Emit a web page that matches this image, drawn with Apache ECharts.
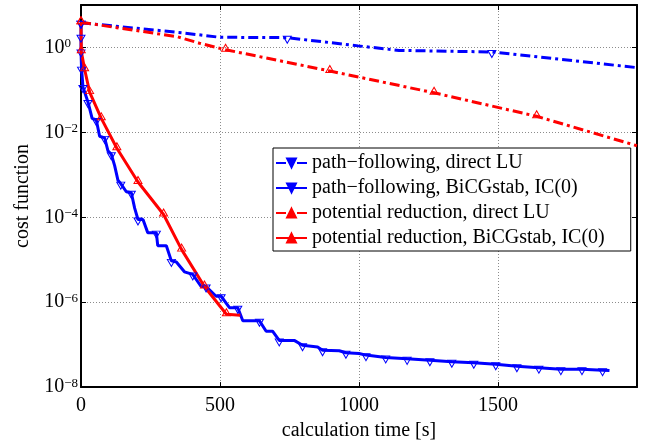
<!DOCTYPE html>
<html>
<head>
<meta charset="utf-8">
<script src="https://cdn.jsdelivr.net/npm/echarts@6/dist/echarts.min.js"></script>
<style>
html, body { margin: 0; padding: 0; background: #fff; }
#chart { width: 648px; height: 446px; }
</style>
</head>
<body>
<div id="chart"></div>
<script>
var seriesNames = [
  'path\u2212following, direct LU',
  'path\u2212following, BiCGstab, IC(0)',
  'potential reduction, direct LU',
  'potential reduction, BiCGstab, IC(0)'
];

// path-following, direct LU
var pfLuTime = [0, 362, 498, 742, 997, 1144, 1478, 2000];
var pfLuCost = [3.82, 2.22, 1.74, 1.70, 1.09, 0.853, 0.783, 0.335];
var pfLuMarks = [0, 3, 6];

// path-following, BiCGstab, IC(0)
var pfItTime = [0, 0, 0, 2, 7, 25, 40, 55, 67, 85, 97, 109, 121, 133, 143, 163, 181, 193,
  205, 223, 240, 271, 276, 307, 325, 343, 372, 402, 432, 450, 486, 504, 534, 564, 582,
  642, 666, 689, 713, 767, 797, 851, 869, 929, 953, 1000, 1025, 1096, 1173, 1255, 1334,
  1413, 1492, 1568, 1647, 1726, 1802, 1876, 1901];
var pfItCost = [3.82, 1.79, 0.809, 0.317, 0.1175, 0.0521, 0.02145, 0.0196, 8.11e-3,
  7.41e-3, 3.66e-3, 3.05e-3, 1.65e-3, 7.43e-4, 6.20e-4, 3.99e-4, 3.78e-4, 1.64e-4,
  8.86e-5, 8.86e-5, 4.35e-5, 4.35e-5, 2.14e-5, 2.14e-5, 9.4e-6, 8.83e-6, 5.19e-6,
  4.52e-6, 2.34e-6, 2.34e-6, 1.38e-6, 1.38e-6, 7.42e-7, 7.42e-7, 3.64e-7, 3.64e-7,
  2.07e-7, 2.07e-7, 1.26e-7, 1.26e-7, 9.64e-8, 8.85e-8, 7.39e-8, 7.16e-8, 6.44e-8,
  6.21e-8, 5.67e-8, 5.01e-8, 4.63e-8, 4.28e-8, 3.95e-8, 3.74e-8, 3.46e-8, 3.11e-8,
  2.87e-8, 2.65e-8, 2.65e-8, 2.51e-8, 2.45e-8];
var pfItMarks = [0, 1, 2, 3, 4, 5, 7, 9, 11, 14, 16, 18, 21, 24, 27, 29, 31, 33, 35, 38,
  40, 42, 44, 46, 47, 48, 49, 50, 51, 52, 53, 54, 55, 56, 57];

// potential reduction, direct LU
var prLuTime = [0, 347, 426, 520, 895, 1270, 1639, 2000];
var prLuCost = [3.92, 1.79, 1.26, 0.885, 0.279, 0.0854, 0.0239, 4.84e-3];
var prLuMarks = [0, 3, 4, 5, 6];

// potential reduction, BiCGstab, IC(0)
var prItTime = [0, 1, 13, 31, 73, 129, 205, 297, 362, 444, 523, 573];
var prItCost = [3.92, 0.81, 0.306, 0.0886, 0.0214, 4.24e-3, 6.78e-4, 1.16e-4, 1.73e-5,
  2.34e-6, 5.2e-7, 4.93e-7];
var prItMarks = [0, 1, 2, 3, 4, 5, 6, 7, 8, 9, 10];

var xTicks = [0, 500, 1000, 1500, 2000];
var yTickExps = [-8, -6, -4, -2, 0];

var FONT = 'Liberation Serif';
var BLUE = '#0000ff';
var RED = '#ff0000';
var dashDot = [10, 4, 3, 4];

function points(times, costs, marks) {
  return times.map(function (t, i) {
    var item = { value: [t, costs[i]] };
    if (marks.indexOf(i) < 0) item.symbol = 'none';
    return item;
  });
}

function lineSeries(name, data, color, dashed, down) {
  return {
    name: name,
    type: 'line',
    data: data,
    symbol: 'triangle',
    symbolSize: [8, 7],
    symbolRotate: down ? 180 : 0,
    symbolOffset: [0, down ? 2 : -2],
    showAllSymbol: true,
    lineStyle: { color: color, width: 3, type: dashed ? dashDot : 'solid' },
    itemStyle: { color: 'rgba(255,255,255,0)', borderColor: color, borderWidth: 1 },
    emphasis: { disabled: true },
    animation: false
  };
}

var myChart = echarts.init(document.getElementById('chart'));

var axisLine = { onZero: false, lineStyle: { color: '#000', width: 2 } };
var tick = { inside: true, length: 5, lineStyle: { color: '#000', width: 1 } };
var grid = { show: true, lineStyle: { color: '#8c8c8c', width: 1, type: [1, 2] } };

var option = {
  textStyle: { fontFamily: FONT },
  grid: { left: 81, right: 11, top: 5, bottom: 51 },
  legend: {
    orient: 'vertical',
    left: 273,
    top: 148,
    padding: [5, 26, 3, 2],
    itemWidth: 31,
    itemHeight: 11,
    itemGap: 5,
    borderColor: '#000',
    borderWidth: 1,
    backgroundColor: '#fff',
    textStyle: { fontSize: 20, color: '#000', fontFamily: FONT },
    data: seriesNames.map(function (n, i) {
      var c = i < 2 ? BLUE : RED;
      return { name: n, itemStyle: { color: c, borderColor: c } };
    })
  },
  xAxis: [{
    type: 'value',
    min: xTicks[0],
    max: xTicks[xTicks.length - 1],
    interval: xTicks[1] - xTicks[0],
    name: 'calculation time [s]',
    nameLocation: 'middle',
    nameGap: 24,
    nameTextStyle: { fontSize: 20, color: '#000', fontFamily: FONT },
    axisLine: axisLine,
    axisTick: tick,
    axisLabel: {
      fontSize: 20, color: '#000', margin: 9, showMaxLabel: false,
      formatter: function (v) { return String(v); }
    },
    splitLine: grid
  }, {
    type: 'value',
    position: 'top',
    min: xTicks[0],
    max: xTicks[xTicks.length - 1],
    interval: xTicks[1] - xTicks[0],
    axisLine: axisLine,
    axisTick: tick,
    axisLabel: { show: false },
    splitLine: { show: false }
  }],
  yAxis: [{
    type: 'log',
    logBase: 10,
    min: Math.pow(10, yTickExps[0]),
    max: 10,
    interval: yTickExps[1] - yTickExps[0],
    name: 'cost function',
    nameLocation: 'middle',
    nameGap: 48,
    nameTextStyle: { fontSize: 20, color: '#000', fontFamily: FONT },
    axisLine: axisLine,
    axisTick: tick,
    axisLabel: {
      margin: 3,
      showMaxLabel: false,
      formatter: function (v) {
        var e = Math.round(Math.log10(v));
        return e < 0 ? '{b|10}{e|\u2212' + (-e) + '}' : '{b|10}{ep|' + e + '}';
      },
      rich: {
        b: { fontSize: 20, lineHeight: 20, color: '#000', fontFamily: FONT, verticalAlign: 'bottom' },
        e: { fontSize: 13, lineHeight: 12, color: '#000', fontFamily: FONT, verticalAlign: 'top', padding: [0, 0, 12, 0] },
        ep: { fontSize: 13, lineHeight: 12, color: '#000', fontFamily: FONT, verticalAlign: 'top', padding: [0, 7, 12, 0] }
      }
    },
    splitLine: grid
  }, {
    type: 'log',
    logBase: 10,
    position: 'right',
    min: Math.pow(10, yTickExps[0]),
    max: 10,
    interval: yTickExps[1] - yTickExps[0],
    axisLine: axisLine,
    axisTick: tick,
    axisLabel: { show: false },
    splitLine: { show: false }
  }],
  series: [
    lineSeries(seriesNames[0], points(pfLuTime, pfLuCost, pfLuMarks), BLUE, true, true),
    lineSeries(seriesNames[1], points(pfItTime, pfItCost, pfItMarks), BLUE, false, true),
    lineSeries(seriesNames[2], points(prLuTime, prLuCost, prLuMarks), RED, true, false),
    lineSeries(seriesNames[3], points(prItTime, prItCost, prItMarks), RED, false, false)
  ]
};

myChart.setOption(option);
</script>
</body>
</html>
